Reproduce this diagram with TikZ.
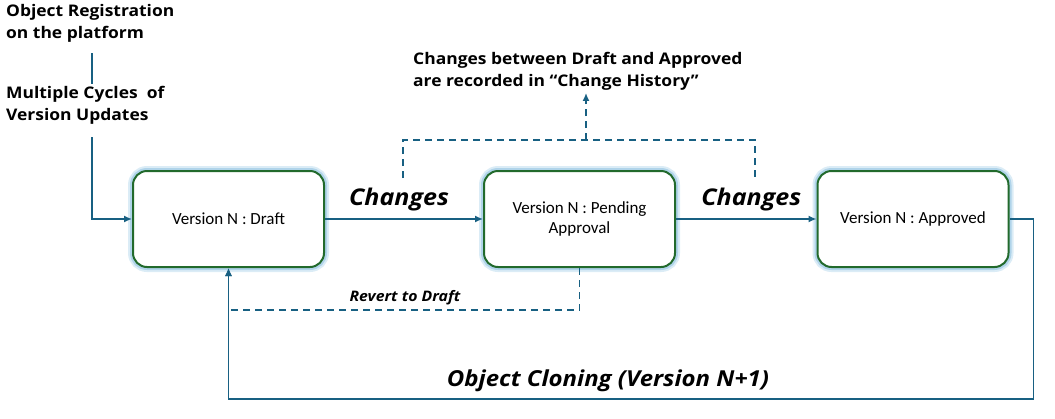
\documentclass[tikz,border=0pt]{standalone}
\usepackage{fontspec}
\setmainfont{Carlito}
\newfontfamily\headfont[FakeStretch=1.09]{Open Sans}
\usepackage{tikz}
\usetikzlibrary{positioning,arrows.meta}
\definecolor{flowblue}{RGB}{24,96,130}
\definecolor{boxgreen}{RGB}{34,106,44}
\definecolor{glowblue}{RGB}{176,212,234}
\begin{document}
\begin{tikzpicture}[x=1pt,y=-1pt]
\tikzstyle{every node}+=[inner sep=2pt]
\tikzstyle{vbox}=[draw=boxgreen, line width=2pt, fill=white, rounded corners=14pt, minimum width=191pt, minimum height=96pt, align=center, font=\fontsize{17}{20}\selectfont, preaction={draw=glowblue!45, line width=10pt}, preaction={draw=glowblue, line width=6pt}]
\tikzstyle{note}=[font=\headfont\bfseries\fontsize{16}{22.5}\selectfont, align=left, anchor=north west]
\tikzstyle{tag}=[font=\headfont\bfseries\itshape\fontsize{23}{26}\selectfont]
\tikzstyle{link}=[draw=flowblue, line width=1.5pt]
\tikzstyle{arrow}=[link, -{Latex[length=8pt,width=7pt]}]
\tikzstyle{dline}=[link, dash pattern=on 7pt off 5pt]
\tikzstyle{darrow}=[dline, -{Latex[length=8pt,width=7pt]}]
\useasboundingbox (0,0) rectangle (1055,418);
\node[vbox] (draft) at (228.5,219) {Version N : Draft};
\node[vbox] (pending) at (579.5,219) {Version N : Pending\\Approval};
\node[vbox] (approved) at (913,219) {Version N : Approved};
\node[note] (reg) at (4,2) {Object Registration\\on the platform};
\node[note] (cyc) at (4,84) {Multiple Cycles~ of\\Version Updates};
\node[note] (hist) at (411,50) {Changes between Draft and Approved\\are recorded in “Change History”};
\coordinate (regfoot) at (92,53);
\coordinate (cycfoot) at (92,137);
\coordinate (lleg) at (403,178);
\coordinate (rleg) at (755,178);
\coordinate (histfoot) at (586,140);
\draw[link] (regfoot) -- (regfoot |- cyc.north);
\draw[arrow] (cycfoot) |- (draft.west);
\draw[arrow] (draft) -- (pending) node[tag, midway, above=5pt, xshift=-5pt] (ch1) {Changes};
\draw[arrow] (pending) -- (approved) node[tag, midway, above=5pt, xshift=5pt] (ch2) {Changes};
\draw[dline] (lleg) -- (lleg |- histfoot) -- (rleg |- histfoot) -- (rleg);
\draw[darrow] (histfoot) -- (histfoot |- hist.south);
\draw[darrow] (pending.south) -- ++(0,42) -| (draft.south);
\node[font=\headfont\bfseries\itshape\fontsize{14.5}{16}\selectfont] (rev) at (405,298) {Revert to Draft};
\draw[arrow] (approved.east) -- ++(24,0) -- ++(0,180) -| (draft.south);
\node[tag, font=\headfont\bfseries\itshape\fontsize{22}{26}\selectfont] (clone) at (608,381) {Object Cloning (Version N+1)};
\end{tikzpicture}
\end{document}
